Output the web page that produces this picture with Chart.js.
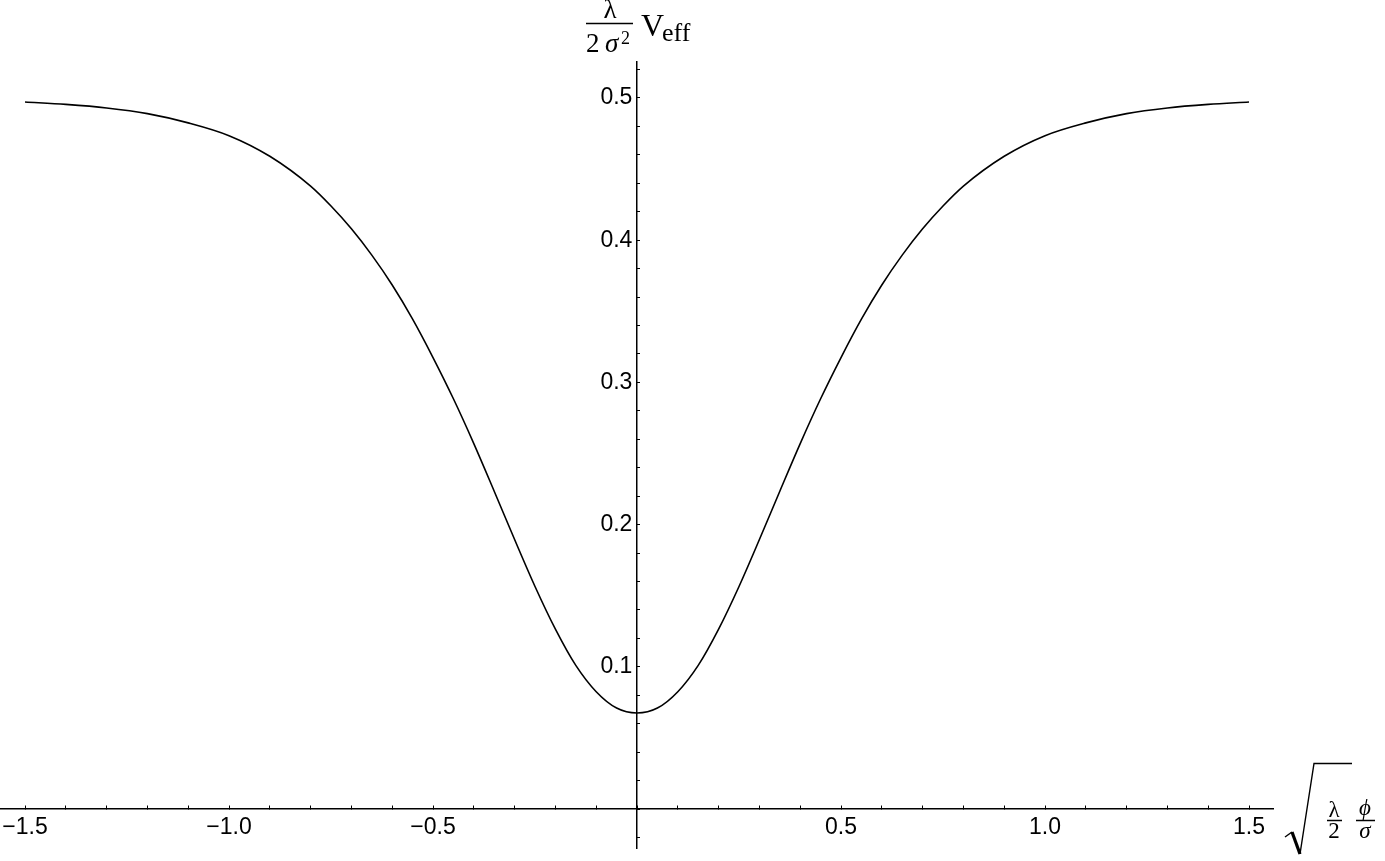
<!DOCTYPE html>
<html>
<head>
<meta charset="utf-8">
<script src="https://cdn.jsdelivr.net/npm/chart.js@4"></script>
<style>
  html, body { margin: 0; padding: 0; background: #fff; }
  #wrap { width: 1385px; height: 861px; }
</style>
</head>
<body>
<div id="wrap"><canvas id="vEffChart" width="1385" height="861"></canvas></div>
<script>
// sqrt(lambda/2) phi/sigma  vs  lambda/(2 sigma^2) Veff
const xValues = [
  -1.5, -1.4, -1.3, -1.2, -1.1, -1.0, -0.9, -0.8, -0.75, -0.7, -0.65, -0.6,
  -0.55, -0.5, -0.45, -0.4, -0.35, -0.3, -0.25, -0.2, -0.15, -0.1, -0.05, 0,
  0.05, 0.1, 0.15, 0.2, 0.25, 0.3, 0.35, 0.4, 0.45, 0.5, 0.55, 0.6, 0.65, 0.7,
  0.75, 0.8, 0.9, 1.0, 1.1, 1.2, 1.3, 1.4, 1.5,
];
const vEffValues = [
  0.4972, 0.4955, 0.493, 0.489, 0.4825, 0.4735, 0.459, 0.438, 0.424, 0.408, 0.3895, 0.3685,
  0.3445, 0.3175, 0.2885, 0.257, 0.2235, 0.1895, 0.1565, 0.1265, 0.101, 0.0825, 0.071, 0.0675,
  0.071, 0.0825, 0.101, 0.1265, 0.1565, 0.1895, 0.2235, 0.257, 0.2885, 0.3175, 0.3445, 0.3685, 0.3895, 0.408,
  0.424, 0.438, 0.459, 0.4735, 0.4825, 0.489, 0.493, 0.4955, 0.4972,
];

// labelled ticks
const xMajorTicks = [-1.5, -1.0, -0.5, 0.5, 1.0, 1.5];
const yMajorTicks = [0.1, 0.2, 0.3, 0.4, 0.5];

// minor tick marks (in tenths / fiftieths)
const xMinorSteps = [-15, 15]; // every 0.1
const yMinorSteps = [-1, 26]; // every 0.02

const X_MIN = -1.5613;
const X_MAX = 1.5588;
const Y_MIN = -0.0274;
const Y_MAX = 0.5253;

const TICK_FONT = { family: "'Liberation Sans', Arial, sans-serif", size: 23 };
const SERIF = "'Liberation Serif', 'Times New Roman', serif";

function fmtTick(v) {
  const s = Math.abs(v).toFixed(1);
  return v < 0 ? "\u2212" + s : s;
}

function isMajor(list, v) {
  return list.some((m) => Math.abs(m - v) < 1e-9);
}

// keep tick labels from pushing the plot area in
function noLabelPadding(scale) {
  scale.paddingLeft = 0;
  scale.paddingRight = 0;
  scale.paddingTop = 0;
  scale.paddingBottom = 0;
}

// axis titles drawn in math style
const axisTitlePlugin = {
  id: "axisTitles",
  afterDraw(chart) {
    const ctx = chart.ctx;
    ctx.save();
    ctx.fillStyle = "#000";
    ctx.strokeStyle = "#000";
    ctx.textBaseline = "alphabetic";

    // y title: lambda / (2 sigma^2) V_eff
    ctx.textAlign = "center";
    ctx.font = "27px " + SERIF;
    ctx.fillText("\u03BB", 610, 18);
    ctx.lineWidth = 1.4;
    ctx.beginPath();
    ctx.moveTo(586, 23.5);
    ctx.lineTo(633, 23.5);
    ctx.stroke();
    ctx.textAlign = "left";
    ctx.fillText("2", 586, 52);
    ctx.font = "italic 27px " + SERIF;
    ctx.fillText("\u03C3", 605, 52);
    ctx.font = "18px " + SERIF;
    ctx.fillText("2", 621, 44);
    ctx.font = "32px " + SERIF;
    ctx.fillText("V", 641, 36);
    ctx.font = "26px " + SERIF;
    ctx.fillText("eff", 662, 41);

    // x title: sqrt(lambda/2) phi/sigma
    ctx.lineJoin = "miter";
    ctx.lineWidth = 1.4;
    ctx.beginPath();
    ctx.moveTo(1285, 837);
    ctx.lineTo(1292, 832);
    ctx.stroke();
    ctx.lineWidth = 3.2;
    ctx.beginPath();
    ctx.moveTo(1292, 832);
    ctx.lineTo(1300, 854);
    ctx.stroke();
    ctx.lineWidth = 1.4;
    ctx.beginPath();
    ctx.moveTo(1300, 854);
    ctx.lineTo(1314, 763.5);
    ctx.lineTo(1352, 763.5);
    ctx.stroke();

    ctx.textAlign = "center";
    ctx.font = "23px " + SERIF;
    ctx.fillText("\u03BB", 1334, 817);
    ctx.fillText("2", 1334, 838);
    ctx.font = "italic 23px " + SERIF;
    ctx.fillText("\u03D5", 1365, 815);
    ctx.fillText("\u03C3", 1365, 838);
    ctx.lineWidth = 1.3;
    ctx.beginPath();
    ctx.moveTo(1327, 820.5);
    ctx.lineTo(1342, 820.5);
    ctx.moveTo(1356, 820.5);
    ctx.lineTo(1375, 820.5);
    ctx.stroke();
    ctx.restore();
  },
};

const ctx = document.getElementById("vEffChart").getContext("2d");
const chart = new Chart(ctx, {
  type: "scatter",
  data: {
    datasets: [
      {
        data: xValues.map((x, i) => ({ x: x, y: vEffValues[i] })),
        showLine: true,
        fill: false,
        borderColor: "#000",
        borderWidth: 1.6,
        pointRadius: 0,
        cubicInterpolationMode: "monotone",
      },
    ],
  },
  options: {
    responsive: false,
    animation: false,
    layout: { padding: { left: 0, right: 112, top: 62, bottom: 13 } },
    plugins: {
      legend: { display: false },
      tooltip: { enabled: false },
    },
    scales: {
      x: {
        type: "linear",
        min: X_MIN,
        max: X_MAX,
        position: { y: 0 },
        border: { display: true, color: "#000", width: 1.5 },
        grid: {
          display: true,
          drawOnChartArea: false,
          drawTicks: true,
          tickLength: -4,
          tickColor: "#000",
          tickWidth: 1,
        },
        afterBuildTicks: (scale) => {
          const ticks = [];
          for (let i = xMinorSteps[0]; i <= xMinorSteps[1]; i++) {
            ticks.push({ value: i / 10 });
          }
          scale.ticks = ticks;
        },
        afterFit: noLabelPadding,
        ticks: {
          autoSkip: false,
          maxRotation: 0,
          padding: 9,
          color: "#000",
          font: TICK_FONT,
          callback: (value) => (isMajor(xMajorTicks, value) ? fmtTick(value) : ""),
        },
      },
      y: {
        type: "linear",
        min: Y_MIN,
        max: Y_MAX,
        position: { x: 0 },
        border: { display: true, color: "#000", width: 1.5 },
        grid: {
          display: true,
          drawOnChartArea: false,
          drawTicks: true,
          tickLength: -4,
          tickColor: "#000",
          tickWidth: 1,
        },
        afterBuildTicks: (scale) => {
          const ticks = [];
          for (let i = yMinorSteps[0]; i <= yMinorSteps[1]; i++) {
            ticks.push({ value: i / 50 });
          }
          scale.ticks = ticks;
        },
        afterFit: noLabelPadding,
        ticks: {
          autoSkip: false,
          color: "#000",
          font: TICK_FONT,
          callback: (value) =>
            isMajor(yMajorTicks, value) ? fmtTick(value) + "\u2009" : "",
        },
      },
    },
  },
  plugins: [axisTitlePlugin],
});
</script>
</body>
</html>
